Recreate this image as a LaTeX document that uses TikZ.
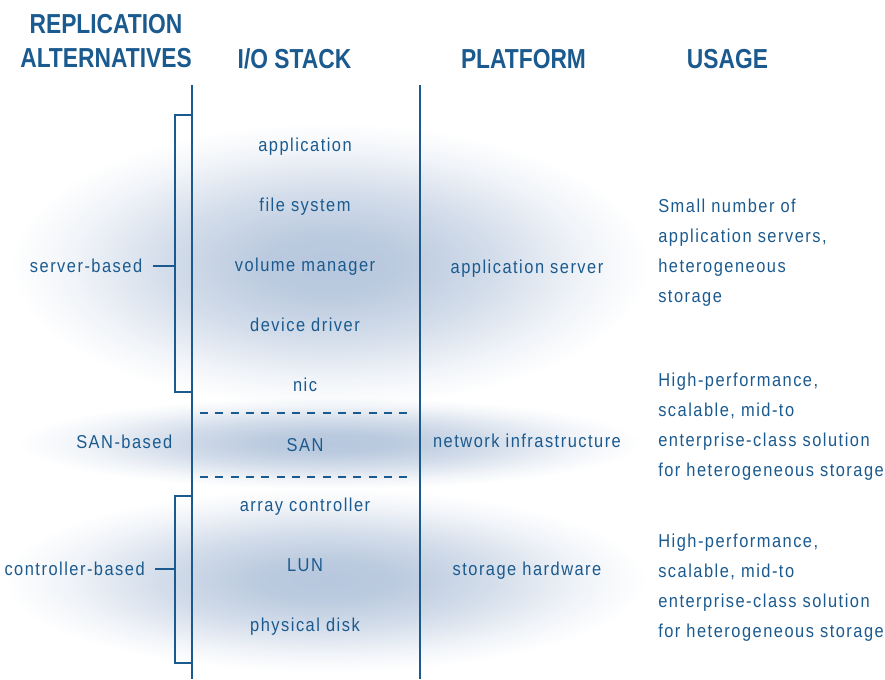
\documentclass[tikz,border=0pt]{standalone}
\usepackage{fontspec}
\setmainfont[FakeStretch=0.88,LetterSpace=8]{Liberation Sans}
\newfontfamily\headfont[FakeStretch=0.83]{Liberation Sans}
\usetikzlibrary{positioning}

\definecolor{lineColour}{HTML}{1B5A8E}
\definecolor{hazeColour}{HTML}{B7C7DD}

% Soft glow behind each group of layers
\pgfdeclareradialshading{haze}{\pgfpoint{0bp}{0bp}}{%
  color(0bp)=(hazeColour); color(5bp)=(hazeColour!95!white);
  color(13bp)=(hazeColour!60!white); color(20bp)=(hazeColour!20!white);
  color(25bp)=(white); color(50bp)=(white)}

\begin{document}
\begin{tikzpicture}[x=0.75pt, y=-0.75pt,
    every node/.style={text=lineColour, inner sep=0pt},
    body/.style={font=\fontsize{14}{22.5}\selectfont},
    header/.style={font=\headfont\bfseries\fontsize{20.6}{25.5}\selectfont},
    rule/.style={draw=lineColour, line width=1.5pt},
    divider/.style={draw=lineColour, line width=1.5pt, dash pattern=on 6pt off 5.5pt},
    glow/.style={shading=haze, blend mode=multiply}]

    \useasboundingbox (0,0) rectangle (885,679);

    % Background glows
    \shade[glow] (330,265) ellipse (320 and 142);
    \shade[glow] (330,443) ellipse (312 and 46);
    \shade[glow] (325,580) ellipse (322 and 92);

    % Column headings
    \node[header, align=center, anchor=south] (repl) at (106,68) {REPLICATION\\ALTERNATIVES};
    \node[header, anchor=base] (stack) at (294.5,68) {I/O STACK};
    \node[header, anchor=base] (platform) at (523.5,68) {PLATFORM};
    \node[header, anchor=base] (usage) at (727.5,68) {USAGE};

    % Column rules
    \coordinate (stackTop) at (192,85);
    \coordinate (stackBot) at (192,679);
    \coordinate (platTop) at (420,85);
    \coordinate (platBot) at (420,679);
    \draw[rule] (stackTop) -- (stackBot);
    \draw[rule] (platTop) -- (platBot);

    % I/O stack layers
    \foreach \name/\txt [count=\i from 0] in {app/application, fs/file system,
        vm/volume manager, dd/device driver, nic/nic, san/SAN,
        ac/array controller, lun/LUN, pd/physical disk}
        \node[body, anchor=base] (\name) at (305,151.7+60*\i) {\txt};

    % SAN boundaries
    \coordinate (dashA1) at (200,413);
    \coordinate (dashA2) at (413,413);
    \coordinate (dashB1) at (200,476.5);
    \coordinate (dashB2) at (413,476.5);
    \draw[divider] (dashA1) -- (dashA2);
    \draw[divider] (dashB1) -- (dashB2);

    % Replication alternatives
    \node[body, anchor=base east] (server) at (142.5,272.7) {server-based};
    \node[body, anchor=base east] (sanbased) at (172.5,448) {SAN-based};
    \node[body, anchor=base east] (ctrl) at (145,575.7) {controller-based};

    % Brackets
    \coordinate (srvTop) at (175,115);
    \coordinate (srvBot) at (175,392);
    \coordinate (srvTick) at (server.east -| srvTop);
    \draw[rule] (stackTop |- srvTop) -- (srvTop) -- (srvBot) -- (stackTop |- srvBot);
    \draw[rule, shorten <=7.5pt] (server) -- (srvTick);

    \coordinate (ctrlTop) at (175,496);
    \coordinate (ctrlBot) at (175,663);
    \coordinate (ctrlTick) at (ctrl.east -| ctrlTop);
    \draw[rule] (stackTop |- ctrlTop) -- (ctrlTop) -- (ctrlBot) -- (stackTop |- ctrlBot);
    \draw[rule, shorten <=7.5pt] (ctrl) -- (ctrlTick);

    % Platforms
    \node[body, anchor=base] (appsrv) at (527,273) {application server};
    \node[body, anchor=base] (netinf) at (527,447.7) {network infrastructure};
    \node[body, anchor=base] (storhw) at (527,575.7) {storage hardware};

    % Usage notes
    \node[body, align=left, anchor=south west] (useSrv) at (658,306.7)
        {Small number of\\application servers,\\heterogeneous\\storage};
    \node[body, align=left, anchor=south west] (useSan) at (658,480.7)
        {High-performance,\\scalable, mid-to\\enterprise-class solution\\for heterogeneous storage};
    \node[body, align=left, anchor=south west] (useCtrl) at (658,641.7)
        {High-performance,\\scalable, mid-to\\enterprise-class solution\\for heterogeneous storage};

\end{tikzpicture}
\end{document}
